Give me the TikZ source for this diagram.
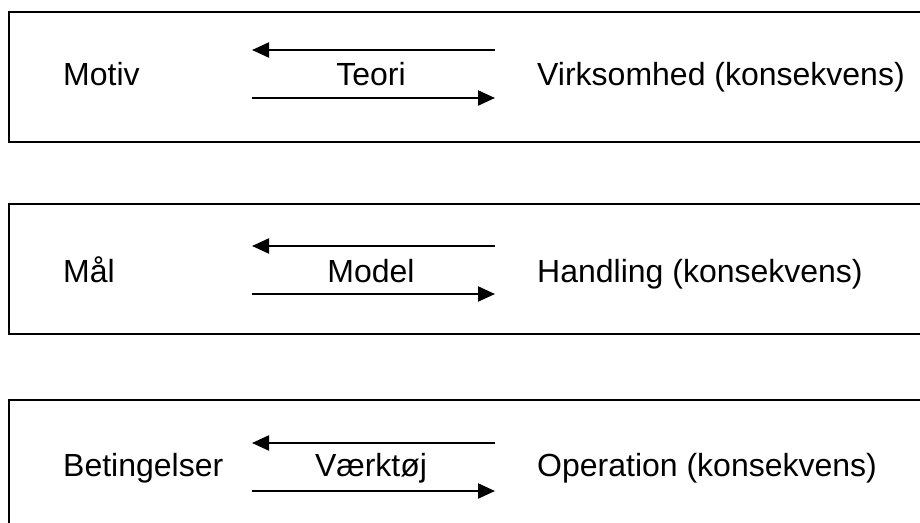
\documentclass[tikz,border=0pt]{standalone}
\usepackage{fontspec}
\setmainfont{Liberation Sans}
\usetikzlibrary{arrows.meta}
\begin{document}
\begin{tikzpicture}[x=1pt,y=-1pt,
  frame/.style={draw=black,line width=2.2pt},
  lbl/.style={inner sep=0pt,font=\fontsize{32}{38}\selectfont},
  lefttext/.style={lbl,anchor=base west},
  midtext/.style={lbl,anchor=base},
  flow/.style={line width=2.2pt,-{Triangle[length=17pt,width=15pt]}}]
\useasboundingbox (0,0) rectangle (920,522);
\clip (0,0) rectangle (920,522);
\fill[white] (0,0) rectangle (920,522);
% boxes
\draw[frame] (9,12) rectangle (930,142);
\draw[frame] (9,204) rectangle (930,334);
\draw[frame] (9,400) rectangle (930,535);
% row 1
\node[lefttext] (motiv) at (63,85) {Motiv};
\node[midtext] (teori) at (371,85) {Teori};
\node[lefttext] (virk) at (537,85) {Virksomhed (konsekvens)};
\coordinate (a1s) at (495,50);
\coordinate (a1e) at (252,50);
\coordinate (b1s) at (252,98);
\coordinate (b1e) at (495,98);
\draw[flow] (a1s) -- (a1e);
\draw[flow] (b1s) -- (b1e);
% row 2
\node[lefttext] (maal) at (63,282) {Mål};
\node[midtext] (model) at (371,282) {Model};
\node[lefttext] (hand) at (537,282) {Handling (konsekvens)};
\coordinate (a2s) at (495,246);
\coordinate (a2e) at (252,246);
\coordinate (b2s) at (252,294);
\coordinate (b2e) at (495,294);
\draw[flow] (a2s) -- (a2e);
\draw[flow] (b2s) -- (b2e);
% row 3
\node[lefttext] (bet) at (63,476) {Betingelser};
\node[midtext] (vaerk) at (371,476) {Værktøj};
\node[lefttext] (oper) at (537,476) {Operation (konsekvens)};
\coordinate (a3s) at (495,443);
\coordinate (a3e) at (252,443);
\coordinate (b3s) at (252,491);
\coordinate (b3e) at (495,491);
\draw[flow] (a3s) -- (a3e);
\draw[flow] (b3s) -- (b3e);
\end{tikzpicture}
\end{document}
